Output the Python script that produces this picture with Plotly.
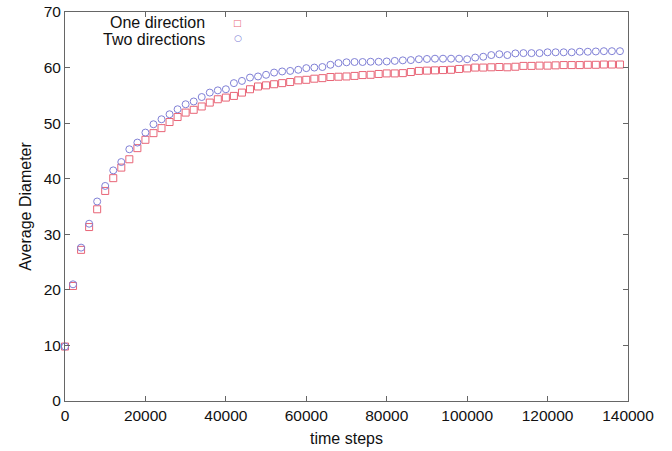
import plotly.graph_objects as go

time_steps = [0, 2000, 4000, 6000, 8000, 10000, 12000, 14000, 16000, 18000,
              20000, 22000, 24000, 26000, 28000, 30000, 32000, 34000, 36000, 38000,
              40000, 42000, 44000, 46000, 48000, 50000, 52000, 54000, 56000, 58000,
              60000, 62000, 64000, 66000, 68000, 70000, 72000, 74000, 76000, 78000,
              80000, 82000, 84000, 86000, 88000, 90000, 92000, 94000, 96000, 98000,
              100000, 102000, 104000, 106000, 108000, 110000, 112000, 114000, 116000, 118000,
              120000, 122000, 124000, 126000, 128000, 130000, 132000, 134000, 136000, 138000]

one_direction = [9.8, 20.7, 27.2, 31.3, 34.5, 37.8, 40.1, 42.0, 43.5, 45.5,
                 47.0, 48.2, 49.1, 50.2, 51.1, 51.9, 52.4, 53.0, 53.7, 54.3,
                 54.6, 54.9, 55.5, 56.1, 56.6, 56.8, 57.0, 57.2, 57.4, 57.7,
                 57.8, 58.0, 58.1, 58.3, 58.35, 58.4, 58.5, 58.65, 58.7, 58.85,
                 58.95, 58.95, 59.0, 59.2, 59.4, 59.45, 59.5, 59.55, 59.6, 59.75,
                 59.85, 60.0, 60.0, 60.05, 60.1, 60.05, 60.15, 60.3, 60.3, 60.35,
                 60.35, 60.4, 60.45, 60.45, 60.45, 60.5, 60.5, 60.55, 60.55, 60.55]

two_directions = [9.8, 21.0, 27.6, 31.9, 35.9, 38.7, 41.5, 43.0, 45.3, 46.5,
                  48.3, 49.8, 50.7, 51.6, 52.5, 53.4, 53.9, 54.7, 55.5, 55.9,
                  56.1, 57.2, 57.6, 58.2, 58.4, 58.7, 59.1, 59.3, 59.4, 59.6,
                  59.9, 60.0, 60.1, 60.5, 60.8, 60.95, 61.0, 61.0, 61.05, 61.05,
                  61.1, 61.2, 61.3, 61.35, 61.5, 61.55, 61.6, 61.6, 61.6, 61.6,
                  61.5, 61.8, 61.95, 62.25, 62.4, 62.25, 62.55, 62.6, 62.6, 62.6,
                  62.75, 62.75, 62.75, 62.75, 62.85, 62.85, 62.9, 62.95, 62.95, 62.95]

x_ticks = [0, 20000, 40000, 60000, 80000, 100000, 120000, 140000]
y_ticks = [0, 10, 20, 30, 40, 50, 60, 70]

series_names = ["One direction", "Two directions"]
red = "rgb(232,100,118)"
blue = "rgb(128,128,214)"
FONT = "Liberation Sans, Arial, Helvetica, sans-serif"

fig = go.Figure()
fig.add_trace(go.Scatter(
    x=time_steps, y=one_direction, mode="markers", name=series_names[0],
    marker=dict(symbol="square-open", size=7, color=red, line=dict(width=1, color=red)),
    showlegend=False, cliponaxis=False))
fig.add_trace(go.Scatter(
    x=time_steps, y=two_directions, mode="markers", name=series_names[1],
    marker=dict(symbol="circle-open", size=7, color=blue, line=dict(width=1, color=blue)),
    showlegend=False, cliponaxis=False))

# gnuplot-style key: text right-aligned, sample symbol to the right
fig.add_annotation(x=0.252, y=0.972, xref="paper", yref="paper", text=series_names[0],
                   showarrow=False, xanchor="right", yanchor="middle",
                   font=dict(family=FONT, size=16, color="#111"))
fig.add_annotation(x=0.252, y=0.930, xref="paper", yref="paper", text=series_names[1],
                   showarrow=False, xanchor="right", yanchor="middle",
                   font=dict(family=FONT, size=16, color="#111"))
fig.add_annotation(x=0.307, y=0.972, xref="paper", yref="paper", text="\u25a1",
                   showarrow=False, xanchor="center", yanchor="middle",
                   font=dict(family="DejaVu Sans", size=9, color=red))
fig.add_annotation(x=0.307, y=0.932, xref="paper", yref="paper", text="\u25cb",
                   showarrow=False, xanchor="center", yanchor="middle",
                   font=dict(family="DejaVu Sans", size=9, color=blue))

axis_common = dict(
    showgrid=False, zeroline=False, showline=True, linecolor="#666", linewidth=1,
    mirror="ticks", ticks="inside", ticklen=5, tickcolor="#666", tickwidth=1,
    tickfont=dict(family=FONT, size=15.5, color="#111"), automargin=False,
)
fig.update_xaxes(range=[0, 140000], tickvals=x_ticks, ticktext=[str(v) for v in x_ticks],
                 title=dict(text="time steps", font=dict(family=FONT, size=16, color="#111"), standoff=10),
                 **axis_common)
fig.update_yaxes(range=[0, 70], tickvals=y_ticks, ticktext=[str(v) for v in y_ticks],
                 title=dict(text="Average Diameter", font=dict(family=FONT, size=16, color="#111"), standoff=8),
                 **axis_common)

fig.update_layout(
    width=672, height=451,
    margin=dict(l=65, r=44, t=12, b=50, autoexpand=False),
    plot_bgcolor="white", paper_bgcolor="white",
    showlegend=False,
)

# remove the default page margin so the figure fills the 672x451 window exactly
fig.write_html("out.html", config={"displayModeBar": False},
               post_script="document.body.style.margin='0px';")
